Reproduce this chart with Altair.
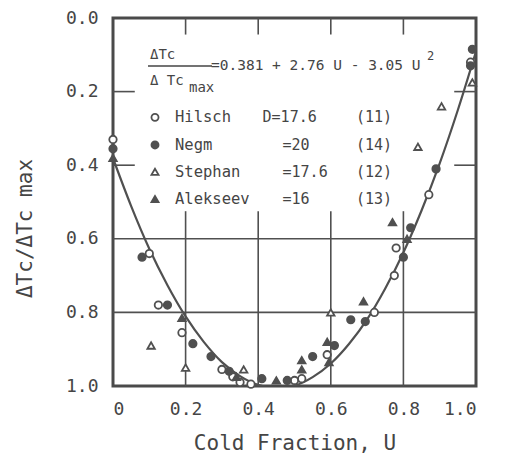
import altair as alt
import pandas as pd

# ---- data ----
hilsch_u = [0.0, 0.10, 0.125, 0.19, 0.30, 0.33, 0.35, 0.38, 0.50, 0.52, 0.59, 0.72, 0.775, 0.78, 0.87, 0.985]
hilsch_v = [0.33, 0.64, 0.78, 0.855, 0.955, 0.975, 0.99, 0.995, 0.985, 0.98, 0.915, 0.80, 0.70, 0.625, 0.48, 0.12]

negm_u = [0.0, 0.08, 0.15, 0.22, 0.27, 0.32, 0.41, 0.48, 0.55, 0.61, 0.655, 0.695, 0.80, 0.82, 0.89, 0.99, 0.985]
negm_v = [0.355, 0.65, 0.78, 0.885, 0.92, 0.96, 0.98, 0.985, 0.92, 0.89, 0.82, 0.825, 0.65, 0.57, 0.41, 0.085, 0.13]

stephan_u = [0.105, 0.20, 0.36, 0.60, 0.84, 0.905, 0.99]
stephan_v = [0.89, 0.95, 0.955, 0.80, 0.35, 0.24, 0.175]

alekseev_u = [0.0, 0.19, 0.34, 0.45, 0.52, 0.52, 0.59, 0.595, 0.69, 0.77, 0.81]
alekseev_v = [0.38, 0.815, 0.975, 0.985, 0.93, 0.955, 0.88, 0.935, 0.77, 0.555, 0.60]

fit_u = [0.0, 0.05, 0.10, 0.15, 0.20, 0.25, 0.30, 0.35, 0.40, 0.45, 0.50,
         0.55, 0.60, 0.65, 0.70, 0.75, 0.80, 0.85, 0.90, 0.95, 1.00]
fit_v = [0.381, 0.511, 0.627, 0.726, 0.811, 0.880, 0.935, 0.973, 0.997, 1.005, 0.999,
         0.976, 0.939, 0.886, 0.819, 0.735, 0.637, 0.523, 0.395, 0.250, 0.091]

tick_values = [0.0, 0.2, 0.4, 0.6, 0.8, 1.0]
grid_inner = [0.2, 0.4, 0.6, 0.8]

series_names = ["Hilsch", "Negm", "Stephan", "Alekseev"]
series_d = ["D=17.6", "=20", "=17.6", "=16"]
series_ref = ["(11)", "(14)", "(12)", "(13)"]

# ---- tables ----
pts = pd.concat([
    pd.DataFrame({"U": hilsch_u, "V": hilsch_v, "s": "Hilsch"}),
    pd.DataFrame({"U": negm_u, "V": negm_v, "s": "Negm"}),
    pd.DataFrame({"U": stephan_u, "V": stephan_v, "s": "Stephan"}),
    pd.DataFrame({"U": alekseev_u, "V": alekseev_v, "s": "Alekseev"}),
], ignore_index=True)

fit = pd.DataFrame({"U": fit_u, "V": fit_v})

segs = []
for g in grid_inner:
    segs.append({"U": g, "U2": g, "V": 0.525, "V2": 1.0})     # lower vertical grid
    segs.append({"U": g, "U2": g, "V": 0.0, "V2": 0.045})     # top inner ticks
for g in [0.6, 0.8]:
    segs.append({"U": 0.0, "U2": 1.0, "V": g, "V2": g})
for g in [0.2, 0.4]:
    segs.append({"U": 0.0, "U2": 0.06, "V": g, "V2": g})
    segs.append({"U": 0.94, "U2": 1.0, "V": g, "V2": g})
segs = pd.DataFrame(segs)

leg_rows = [0.27, 0.345, 0.418, 0.492]
leg = pd.DataFrame({"s": series_names, "d": series_d, "r": series_ref, "V": leg_rows})

INK = "#454545"
LINE = "#505050"
MONO = "DejaVu Sans Mono"

xs = alt.Scale(domain=[0, 1], nice=False, zero=False)
ys = alt.Scale(domain=[0, 1], nice=False, zero=False, reverse=True)

X_AX = alt.Axis(
    values=tick_values, title="Cold Fraction, U",
    labelExpr="datum.value == 0 ? '0' : format(datum.value, '.1f')",
    labelPadding=14, titleY=63, titleBaseline="alphabetic",
    titleFontSize=21)
Y_AX = alt.Axis(
    values=tick_values, title="ΔTc/ΔTc max", format=".1f",
    labelPadding=15, titleAngle=-90, titleX=-88, titleY=210,
    titleAlign="center", titleBaseline="middle", titleFontSize=21)


def X(f):
    return alt.X(f, scale=xs, axis=X_AX)


def Y(f):
    return alt.Y(f, scale=ys, axis=Y_AX)


shape_scale = alt.Scale(domain=series_names,
                        range=["circle", "circle", "triangle-up", "triangle-up"])
fill_scale = alt.Scale(domain=series_names,
                       range=["white", LINE, "white", LINE])

grid = alt.Chart(segs).mark_rule(color=LINE, strokeWidth=1.6).encode(
    x=X("U:Q"), x2="U2:Q", y=Y("V:Q"), y2="V2:Q",
)

curve = alt.Chart(fit).mark_line(color=LINE, strokeWidth=2.2, clip=True,
                                 interpolate="monotone").encode(
    x=X("U:Q"), y=Y("V:Q"),
)

points = alt.Chart(pts).mark_point(size=55, strokeWidth=1.8, opacity=1,
                                   filled=False, stroke=LINE).encode(
    x=X("U:Q"), y=Y("V:Q"),
    shape=alt.Shape("s:N", scale=shape_scale, legend=None),
    fill=alt.Fill("s:N", scale=fill_scale, legend=None),
)

leg_pts = alt.Chart(leg).mark_point(size=50, strokeWidth=1.8, opacity=1,
                                    filled=False, stroke=LINE).encode(
    x=alt.value(155 - 113),
    y=Y("V:Q"),
    shape=alt.Shape("s:N", scale=shape_scale, legend=None),
    fill=alt.Fill("s:N", scale=fill_scale, legend=None),
)

txt_kw = dict(font=MONO, color=INK, align="left", baseline="middle")
leg_name = alt.Chart(leg).mark_text(fontSize=15.5, **txt_kw).encode(
    x=alt.value(175 - 113), y=Y("V:Q"), text="s:N")
leg_d = alt.Chart(leg).mark_text(fontSize=15, **txt_kw).encode(
    x=X("U:Q"), y=Y("V:Q"), text="d:N"
).transform_calculate(U="datum.d[0] == 'D' ? 0.412 : 0.467")
leg_r = alt.Chart(leg).mark_text(fontSize=15, **txt_kw).encode(
    x=alt.value(356 - 113), y=Y("V:Q"), text="r:N")

# formula
num = alt.Chart(pd.DataFrame({"t": ["ΔTc"]})).mark_text(fontSize=14, **txt_kw).encode(
    x=alt.value(150 - 113), y=alt.value(55 - 18), text="t:N")
den = alt.Chart(pd.DataFrame({"t": ["Δ Tc"]})).mark_text(fontSize=14, **txt_kw).encode(
    x=alt.value(150 - 113), y=alt.value(81 - 18), text="t:N")
den_sub = alt.Chart(pd.DataFrame({"t": ["max"]})).mark_text(fontSize=14, **txt_kw).encode(
    x=alt.value(189 - 113), y=alt.value(88 - 18), text="t:N")
frac = alt.Chart(pd.DataFrame({"a": [0]})).mark_rule(color=INK, strokeWidth=1.5).encode(
    x=alt.value(148 - 113), x2=alt.value(212 - 113), y=alt.value(66 - 18))
rhs = alt.Chart(pd.DataFrame({"t": ["=0.381 + 2.76 U - 3.05 U"]})).mark_text(fontSize=14.5, **txt_kw).encode(
    x=alt.value(211 - 113), y=alt.value(66 - 18), text="t:N")
sup = alt.Chart(pd.DataFrame({"t": ["2"]})).mark_text(fontSize=12, **txt_kw).encode(
    x=alt.value(427 - 113), y=alt.value(56 - 18), text="t:N")

chart = alt.layer(
    grid, curve, points, leg_pts, leg_name, leg_d, leg_r,
    num, den, den_sub, frac, rhs, sup
).properties(
    width=363, height=368,
    padding={"left": 113, "top": 18, "right": 31, "bottom": 69},
    autosize=alt.AutoSizeParams(type="none"),
    background="white",
).configure_view(
    stroke="#4a4a4a", strokeWidth=3
).configure_axis(
    domain=False, ticks=False, grid=False,
    labelFont=MONO, labelFontSize=18, labelColor=INK,
    titleFont=MONO, titleColor=INK, titleFontWeight="normal",
)

chart.save("out.html", embed_options={"renderer": "svg", "actions": False})
